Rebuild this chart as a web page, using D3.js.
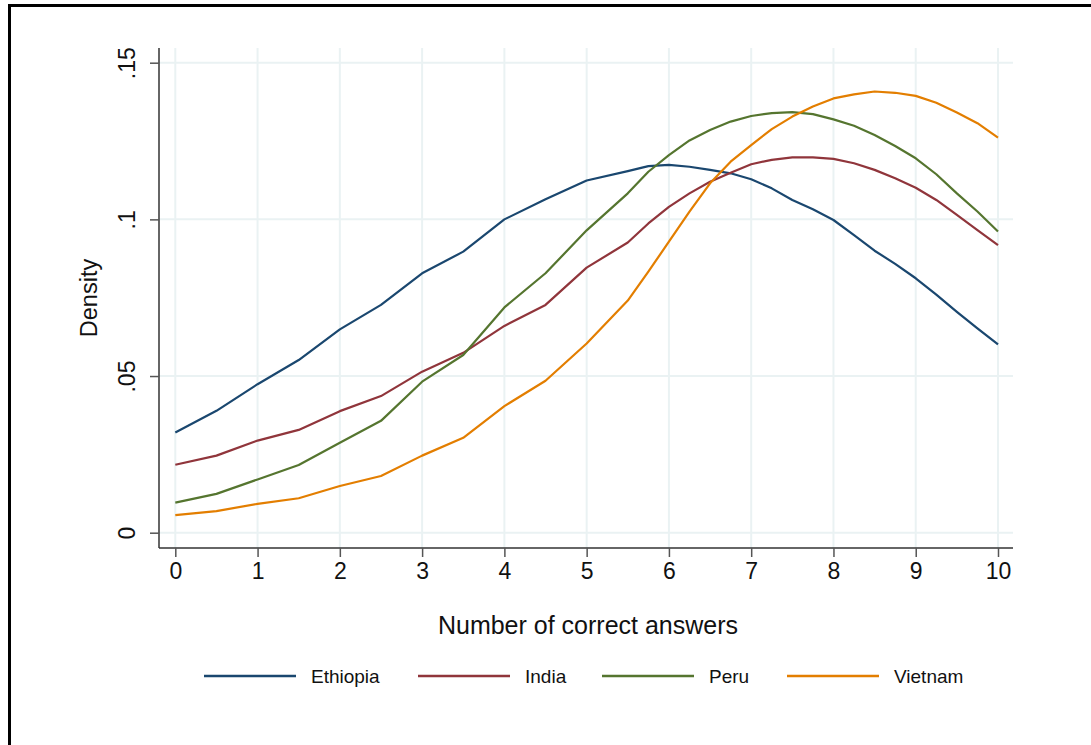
<!DOCTYPE html>
<html>
<head>
<meta charset="utf-8">
<script src="https://cdn.jsdelivr.net/npm/d3@7"></script>
<style>
    body { margin: 0; background: #fff; }
    svg { display: block; font-family: "Liberation Sans", Arial, sans-serif; }
    .grid line { stroke: #eaf2f3; stroke-width: 2; }
    .axis path { stroke: #333; stroke-width: 1.5; }
    .axis line { stroke: #555; stroke-width: 1.5; }
    .axis text { fill: #111; font-size: 23px; }
</style>
</head>
<body>
<div id="chart"></div>
<script>
// data
const answers = [0, 0.5, 1, 1.5, 2, 2.5, 3, 3.5, 4, 4.5, 5, 5.5, 5.75, 6, 6.25,
    6.5, 6.75, 7, 7.25, 7.5, 7.75, 8, 8.25, 8.5, 8.75, 9, 9.25, 9.5, 9.75, 10];
const ethiopia = [0.0320, 0.0389, 0.0474, 0.0551, 0.0649, 0.0727, 0.0828, 0.0897, 0.1000, 0.1064,
    0.1124, 0.1154, 0.1170, 0.1174, 0.1168, 0.1158, 0.1147, 0.1128, 0.1099, 0.1062,
    0.1032, 0.0998, 0.0950, 0.0900, 0.0858, 0.0812, 0.0760, 0.0705, 0.0652, 0.0601];
const india = [0.0217, 0.0246, 0.0294, 0.0328, 0.0388, 0.0436, 0.0514, 0.0574, 0.0660, 0.0727,
    0.0846, 0.0926, 0.0987, 0.1040, 0.1083, 0.1120, 0.1149, 0.1176, 0.1190, 0.1198,
    0.1198, 0.1193, 0.1179, 0.1158, 0.1131, 0.1101, 0.1062, 0.1014, 0.0966, 0.0918];
const peru = [0.0096, 0.0124, 0.0170, 0.0216, 0.0287, 0.0357, 0.0482, 0.0567, 0.0719, 0.0828,
    0.0965, 0.1083, 0.1152, 0.1205, 0.1252, 0.1285, 0.1312, 0.1330, 0.1339, 0.1342,
    0.1336, 0.1319, 0.1299, 0.1269, 0.1234, 0.1195, 0.1144, 0.1083, 0.1025, 0.0961];
const vietnam = [0.0056, 0.0069, 0.0092, 0.0110, 0.0149, 0.0181, 0.0246, 0.0303, 0.0404, 0.0485,
    0.0604, 0.0741, 0.0833, 0.0929, 0.1025, 0.1115, 0.1184, 0.1237, 0.1288, 0.1328,
    0.1360, 0.1386, 0.1399, 0.1408, 0.1404, 0.1394, 0.1372, 0.1341, 0.1307, 0.1261];
const countries = ['Ethiopia', 'India', 'Peru', 'Vietnam'];
const colors = ['#1a476f', '#90353b', '#55752f', '#e37e00'];
const xTicks = [0, 1, 2, 3, 4, 5, 6, 7, 8, 9, 10];
const yTicks = [0, 0.05, 0.1, 0.15];
const yTickLabels = ['0', '.05', '.1', '.15'];

function densityChart() {
    let svg;
    let width = 1091;
    let height = 745;
    let xScale;
    let yScale;
    const plot = {left: 159, right: 1013, top: 48, bottom: 548};

    const series = [ethiopia, india, peru, vietnam].map((values, i) => ({
        name: countries[i],
        color: colors[i],
        points: answers.map((a, j) => ({a, d: values[j]}))
    }));

    function exports(container) {
        buildScales();
        buildSVG(container);
        drawFrame();
        drawGrid();
        drawAxes();
        drawLines();
        drawLegend();
    }

    function buildScales() {
        xScale = d3.scaleLinear()
            .domain([0, 10])
            .range([175.3, 998]);

        yScale = d3.scaleLinear()
            .domain([0, 0.15])
            .range([532.7, 62.7]);
    }

    function buildSVG(container) {
        svg = d3.select(container)
          .append('svg')
            .attr('width', width)
            .attr('height', height);
    }

    function drawFrame() {
        svg.append('rect')
            .attr('x', 9.5)
            .attr('y', 5.5)
            .attr('width', 1200)
            .attr('height', 900)
            .attr('fill', 'none')
            .attr('stroke', '#000')
            .attr('stroke-width', 3);
    }

    function drawGrid() {
        const grid = svg.append('g').classed('grid', true);

        grid.selectAll('.v')
            .data(xTicks)
          .enter().append('line')
            .attr('x1', xScale).attr('x2', xScale)
            .attr('y1', plot.top).attr('y2', plot.bottom);

        grid.selectAll('.h')
            .data(yTicks)
          .enter().append('line')
            .attr('x1', plot.left).attr('x2', plot.right)
            .attr('y1', yScale).attr('y2', yScale);
    }

    function drawAxes() {
        const xAxis = d3.axisBottom(xScale)
            .tickValues(xTicks)
            .tickSize(9)
            .tickPadding(6)
            .tickSizeOuter(0);

        const yAxis = d3.axisLeft(yScale)
            .tickValues(yTicks)
            .tickFormat((d, i) => yTickLabels[i])
            .tickSize(9)
            .tickSizeOuter(0);

        const xg = svg.append('g')
            .classed('axis x-axis', true)
            .attr('transform', `translate(0,${plot.bottom})`)
            .call(xAxis);
        xg.select('.domain')
            .attr('d', `M${plot.left},0H${plot.right}`);

        const yg = svg.append('g')
            .classed('axis y-axis', true)
            .attr('transform', `translate(${plot.left},0)`)
            .call(yAxis);
        yg.select('.domain')
            .attr('d', `M0,${plot.top}V${plot.bottom}`);
        yg.selectAll('.tick text')
            .attr('x', null)
            .attr('dy', null)
            .attr('text-anchor', 'middle')
            .attr('transform', 'translate(-24,0) rotate(-90)');

        svg.append('text')
            .attr('x', 588)
            .attr('y', 634)
            .attr('text-anchor', 'middle')
            .attr('font-size', 25)
            .attr('fill', '#111')
            .text('Number of correct answers');

        svg.append('text')
            .attr('transform', `translate(97,${(plot.top + plot.bottom) / 2}) rotate(-90)`)
            .attr('text-anchor', 'middle')
            .attr('font-size', 23.5)
            .attr('fill', '#111')
            .text('Density');
    }

    function drawLines() {
        const line = d3.line()
            .x(({a}) => xScale(a))
            .y(({d}) => yScale(d));

        svg.append('g')
            .classed('lines', true)
          .selectAll('path')
            .data(series)
          .enter().append('path')
            .attr('fill', 'none')
            .attr('stroke', ({color}) => color)
            .attr('stroke-width', 2.2)
            .attr('stroke-linejoin', 'round')
            .attr('d', ({points}) => line(points));
    }

    function drawLegend() {
        const starts = [204, 418, 602, 787];
        const item = svg.append('g')
            .classed('legend', true)
          .selectAll('g')
            .data(series)
          .enter().append('g')
            .attr('transform', (d, i) => `translate(${starts[i]},676)`);

        item.append('line')
            .attr('x1', 0).attr('x2', 92)
            .attr('stroke', ({color}) => color)
            .attr('stroke-width', 2.5);

        item.append('text')
            .attr('x', 107)
            .attr('y', 7)
            .attr('font-size', 19)
            .attr('fill', '#111')
            .text(({name}) => name);
    }

    return exports;
}

densityChart()(document.getElementById('chart'));
</script>
</body>
</html>
